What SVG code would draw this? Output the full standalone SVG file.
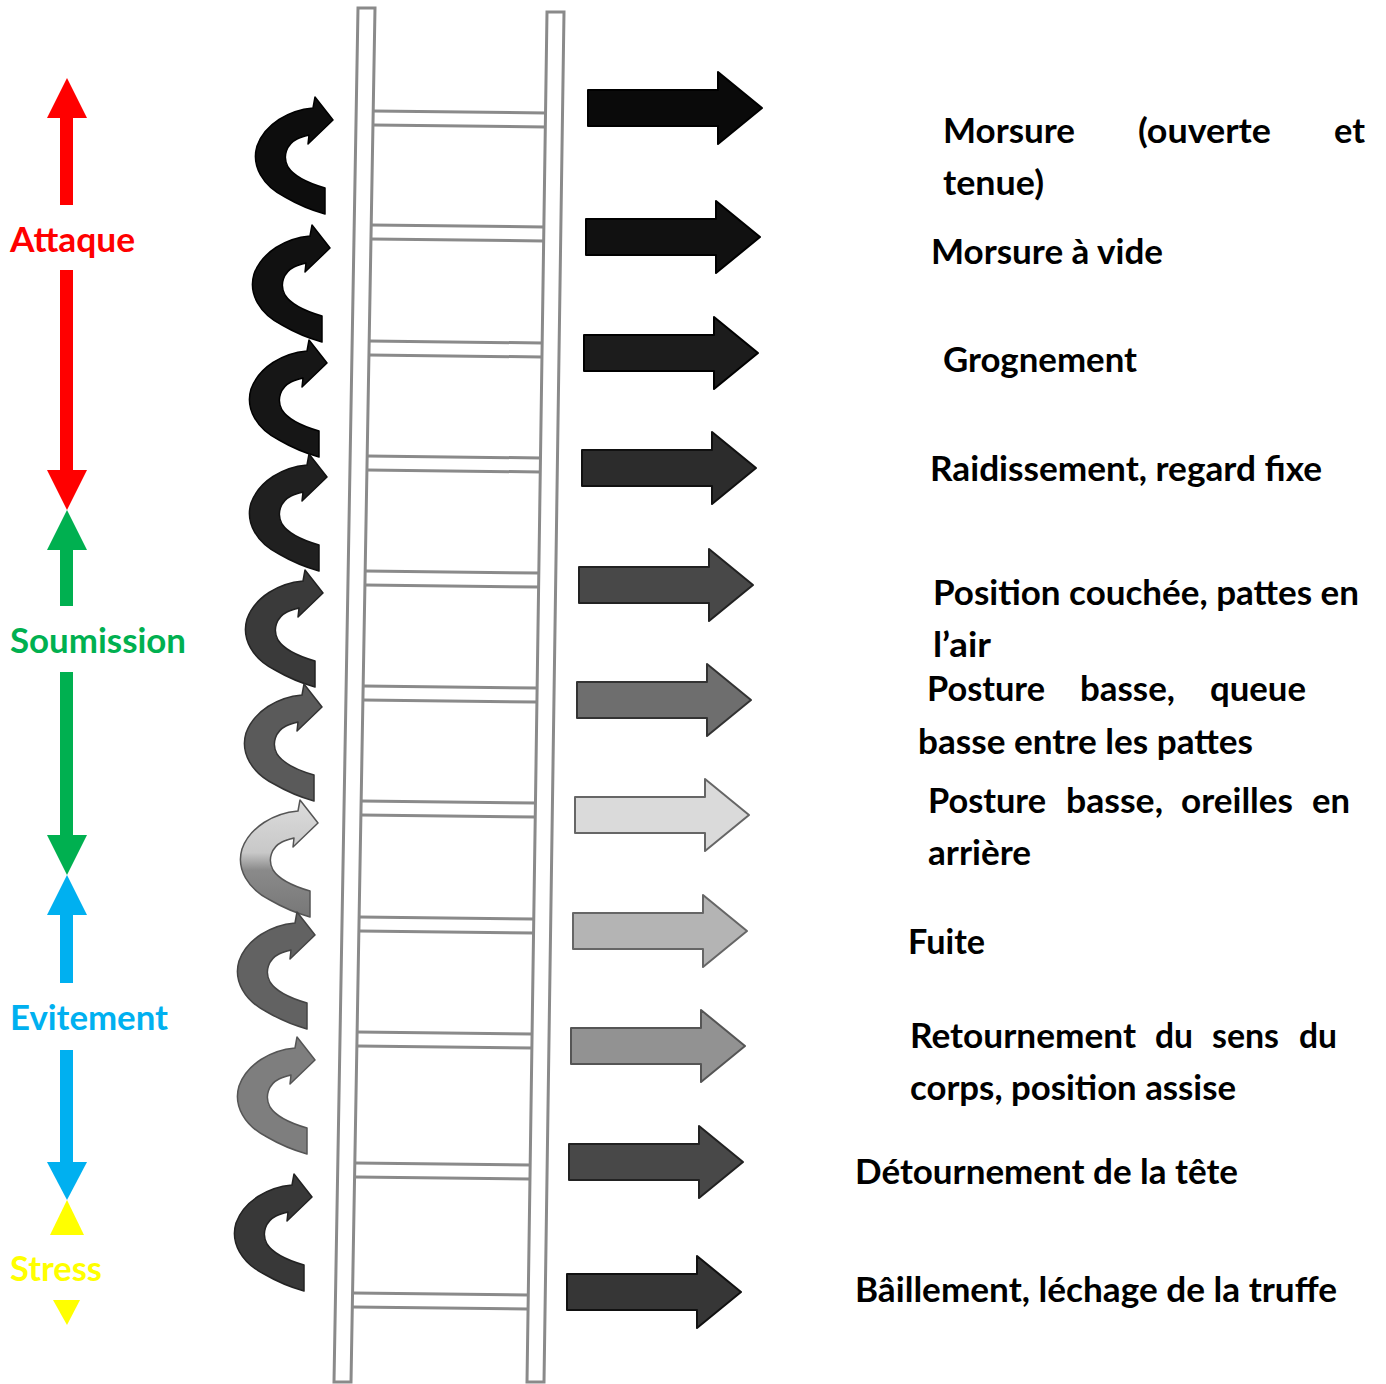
<svg xmlns="http://www.w3.org/2000/svg" xmlns:xlink="http://www.w3.org/1999/xlink" width="1386" height="1384" viewBox="0 0 1386 1384">
<style>
.t{font-family:Lato,'Open Sans','Liberation Sans',sans-serif;font-weight:700;font-size:34px;}
.k{fill:#000;}
.rail{fill:#fff;stroke:#8a8a8a;stroke-width:3;}
.rung{stroke:#8a8a8a;stroke-width:3;fill:none;}
.sa{stroke-width:2;stroke-linejoin:round;}
.ca{stroke-width:1.5;stroke-linejoin:round;}
</style>
<defs>
<path id="curl" d="M0,0 L-18,-23 L-20,-12 C-44,-10 -68,4 -76,26 C-82,46 -70,66 -48,77 C-36,84 -22,90 -8,94 L-8,68 C-22,64 -38,58 -45,47 C-51,36 -46,24 -36,19 C-32,17 -28,16 -24,15 L-25,24 Z"/>
<path id="blk" d="M0,-18 H130 V-36 L174,0 L130,36 V18 H0 Z"/>
<linearGradient id="g7" x1="0" y1="0" x2="0" y2="1">
<stop offset="0" stop-color="#dcdcdc"/><stop offset="0.45" stop-color="#c8c8c8"/><stop offset="0.6" stop-color="#8a8a8a"/><stop offset="1" stop-color="#777"/>
</linearGradient>
</defs>
<rect width="1386" height="1384" fill="#fff"/>

<g id="scale-attaque">
<polygon points="47,118 87,118 67,78" fill="#ff0000"/>
<rect x="60" y="117" width="13" height="88" fill="#ff0000"/>
<text class="t" x="10" y="252" fill="#ff0000" textLength="125" lengthAdjust="spacingAndGlyphs">Attaque</text>
<rect x="60" y="270" width="13" height="201" fill="#ff0000"/>
<polygon points="47,470 87,470 67,510" fill="#ff0000"/>
</g>
<g id="scale-soumission">
<polygon points="47,550 87,550 67,510" fill="#00b050"/>
<rect x="60" y="549" width="13" height="57" fill="#00b050"/>
<text class="t" x="10" y="653" fill="#00b050" textLength="176" lengthAdjust="spacingAndGlyphs">Soumission</text>
<rect x="60" y="672" width="13" height="164" fill="#00b050"/>
<polygon points="47,835 87,835 67,875" fill="#00b050"/>
</g>
<g id="scale-evitement">
<polygon points="47,915 87,915 67,875" fill="#00b0f0"/>
<rect x="60" y="914" width="13" height="69" fill="#00b0f0"/>
<text class="t" x="10" y="1030" fill="#00b0f0" textLength="158" lengthAdjust="spacingAndGlyphs">Evitement</text>
<rect x="60" y="1050" width="13" height="113" fill="#00b0f0"/>
<polygon points="47,1162 87,1162 67,1200" fill="#00b0f0"/>
</g>
<g id="scale-stress">
<polygon points="50,1235 84,1235 67,1200" fill="#ffff00"/>
<text class="t" x="10" y="1281" fill="#ffff00" textLength="92" lengthAdjust="spacingAndGlyphs">Stress</text>
<polygon points="53,1300 80,1300 67,1325" fill="#ffff00"/>
</g>

<g id="ladder">
<g class="rung">
<line x1="373" y1="111" x2="546" y2="113"/><line x1="373" y1="125" x2="546" y2="127"/>
<line x1="371" y1="225" x2="544" y2="227"/><line x1="371" y1="239" x2="544" y2="241"/>
<line x1="369" y1="341" x2="542" y2="343"/><line x1="369" y1="355" x2="542" y2="357"/>
<line x1="367" y1="456" x2="541" y2="458"/><line x1="367" y1="470" x2="541" y2="472"/>
<line x1="365" y1="571" x2="539" y2="573"/><line x1="365" y1="585" x2="539" y2="587"/>
<line x1="363" y1="686" x2="537" y2="688"/><line x1="363" y1="700" x2="537" y2="702"/>
<line x1="361" y1="801" x2="536" y2="803"/><line x1="361" y1="815" x2="536" y2="817"/>
<line x1="359" y1="917" x2="534" y2="919"/><line x1="359" y1="931" x2="534" y2="933"/>
<line x1="357" y1="1032" x2="532" y2="1034"/><line x1="357" y1="1046" x2="532" y2="1048"/>
<line x1="355" y1="1163" x2="530" y2="1165"/><line x1="355" y1="1177" x2="530" y2="1179"/>
<line x1="353" y1="1293" x2="528" y2="1295"/><line x1="353" y1="1307" x2="528" y2="1309"/>
</g>
<polygon class="rail" points="358,8 375,8 351,1382 334,1382"/>
<polygon class="rail" points="547,12 564,12 544,1382 527,1382"/>
</g>

<g id="curly-arrows">
<use xlink:href="#curl" href="#curl" transform="translate(333,120)" fill="#0d0d0d" stroke="#000" class="ca"/>
<use xlink:href="#curl" href="#curl" transform="translate(330,248)" fill="#111" stroke="#000" class="ca"/>
<use xlink:href="#curl" href="#curl" transform="translate(327,363)" fill="#161616" stroke="#000" class="ca"/>
<use xlink:href="#curl" href="#curl" transform="translate(327,477)" fill="#202020" stroke="#111" class="ca"/>
<use xlink:href="#curl" href="#curl" transform="translate(323,593)" fill="#3a3a3a" stroke="#222" class="ca"/>
<use xlink:href="#curl" href="#curl" transform="translate(322,707)" fill="#5a5a5a" stroke="#333" class="ca"/>
<use xlink:href="#curl" href="#curl" transform="translate(318,823)" fill="url(#g7)" stroke="#555" class="ca"/>
<use xlink:href="#curl" href="#curl" transform="translate(315,935)" fill="#626262" stroke="#444" class="ca"/>
<use xlink:href="#curl" href="#curl" transform="translate(315,1060)" fill="#7e7e7e" stroke="#555" class="ca"/>
<use xlink:href="#curl" href="#curl" transform="translate(312,1197)" fill="#383838" stroke="#222" class="ca"/>
</g>

<g id="straight-arrows">
<use xlink:href="#blk" href="#blk" transform="translate(588,108)" fill="#0a0a0a" stroke="#000" class="sa"/>
<use xlink:href="#blk" href="#blk" transform="translate(586,237)" fill="#111" stroke="#000" class="sa"/>
<use xlink:href="#blk" href="#blk" transform="translate(584,353)" fill="#1c1c1c" stroke="#000" class="sa"/>
<use xlink:href="#blk" href="#blk" transform="translate(582,468)" fill="#2c2c2c" stroke="#111" class="sa"/>
<use xlink:href="#blk" href="#blk" transform="translate(579,585)" fill="#484848" stroke="#222" class="sa"/>
<use xlink:href="#blk" href="#blk" transform="translate(577,700)" fill="#6e6e6e" stroke="#333" class="sa"/>
<use xlink:href="#blk" href="#blk" transform="translate(575,815)" fill="#dadada" stroke="#666" class="sa"/>
<use xlink:href="#blk" href="#blk" transform="translate(573,931)" fill="#b4b4b4" stroke="#666" class="sa"/>
<use xlink:href="#blk" href="#blk" transform="translate(571,1046)" fill="#929292" stroke="#555" class="sa"/>
<use xlink:href="#blk" href="#blk" transform="translate(569,1162)" fill="#484848" stroke="#222" class="sa"/>
<use xlink:href="#blk" href="#blk" transform="translate(567,1292)" fill="#363636" stroke="#111" class="sa"/>
</g>

<g id="labels" class="t k">
<g id="l1">
<text x="943" y="143" textLength="132" lengthAdjust="spacingAndGlyphs">Morsure</text>
<text x="1138" y="143" textLength="133" lengthAdjust="spacingAndGlyphs">(ouverte</text>
<text x="1334" y="143" textLength="31" lengthAdjust="spacingAndGlyphs">et</text>
<text x="943" y="195" textLength="101" lengthAdjust="spacingAndGlyphs">tenue)</text>
</g>
<text id="l2" x="931" y="264" textLength="232" lengthAdjust="spacingAndGlyphs">Morsure à vide</text>
<text id="l3" x="943" y="372" textLength="194" lengthAdjust="spacingAndGlyphs">Grognement</text>
<text id="l4" x="930" y="481" textLength="392" lengthAdjust="spacingAndGlyphs">Raidissement, regard fixe</text>
<g id="l5">
<text x="933" y="605" textLength="426" lengthAdjust="spacingAndGlyphs">Position couchée, pattes en</text>
<text x="933" y="657" textLength="58" lengthAdjust="spacingAndGlyphs">l’air</text>
</g>
<g id="l6">
<text x="927" y="701" textLength="118" lengthAdjust="spacingAndGlyphs">Posture</text>
<text x="1080" y="701" textLength="95" lengthAdjust="spacingAndGlyphs">basse,</text>
<text x="1210" y="701" textLength="96" lengthAdjust="spacingAndGlyphs">queue</text>
<text x="918" y="754" textLength="335" lengthAdjust="spacingAndGlyphs">basse entre les pattes</text>
</g>
<g id="l7">
<text x="928" y="813" textLength="118" lengthAdjust="spacingAndGlyphs">Posture</text>
<text x="1066" y="813" textLength="97" lengthAdjust="spacingAndGlyphs">basse,</text>
<text x="1181" y="813" textLength="112" lengthAdjust="spacingAndGlyphs">oreilles</text>
<text x="1312" y="813" textLength="38" lengthAdjust="spacingAndGlyphs">en</text>
<text x="928" y="865" textLength="103" lengthAdjust="spacingAndGlyphs">arrière</text>
</g>
<text id="l8" x="908" y="954" textLength="77" lengthAdjust="spacingAndGlyphs">Fuite</text>
<g id="l9">
<text x="910" y="1048" textLength="226" lengthAdjust="spacingAndGlyphs">Retournement</text>
<text x="1155" y="1048" textLength="38" lengthAdjust="spacingAndGlyphs">du</text>
<text x="1212" y="1048" textLength="67" lengthAdjust="spacingAndGlyphs">sens</text>
<text x="1299" y="1048" textLength="38" lengthAdjust="spacingAndGlyphs">du</text>
<text x="910" y="1100" textLength="326" lengthAdjust="spacingAndGlyphs">corps, position assise</text>
</g>
<text id="l10" x="855" y="1184" textLength="383" lengthAdjust="spacingAndGlyphs">Détournement de la tête</text>
<text id="l11" x="855" y="1302" textLength="482" lengthAdjust="spacingAndGlyphs">Bâillement, léchage de la truffe</text>
</g>
</svg>
